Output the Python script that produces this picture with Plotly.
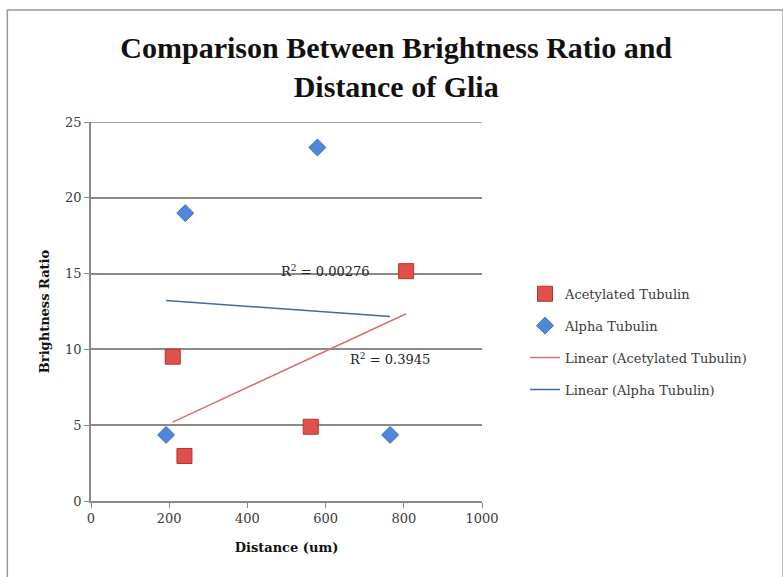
import numpy as np
import plotly.graph_objects as go

# Data
acet_x = [209, 239, 562, 806]
acet_y = [9.52, 2.97, 4.9, 15.16]
alpha_x = [192, 241, 579, 765]
alpha_y = [4.36, 18.99, 23.32, 4.36]

r2_acet_label = "R<sup>2</sup> = 0.3945"
r2_alpha_label = "R<sup>2</sup> = 0.00276"

x_ticks = [0, 200, 400, 600, 800, 1000]
y_ticks = [0, 5, 10, 15, 20, 25]

def fit_line(xs, ys):
    m, b = np.polyfit(xs, ys, 1)
    xx = np.array([min(xs), max(xs)])
    return xx, m * xx + b

ax_x, ax_y = fit_line(acet_x, acet_y)
al_x, al_y = fit_line(alpha_x, alpha_y)

SERIF = "DejaVu Serif"
TITLE_FONT = "Liberation Serif"
TXT = "#3a3a3a"
GRID = "#8a8a8a"

fig = go.Figure()
fig.add_trace(go.Scatter(
    x=acet_x, y=acet_y, mode="markers", name="Acetylated Tubulin",
    marker=dict(symbol="square", size=15, color="#e0504b",
                line=dict(color="#b8322e", width=1)),
    legendgroup="a"))
fig.add_trace(go.Scatter(
    x=alpha_x, y=alpha_y, mode="markers", name="Alpha Tubulin",
    marker=dict(symbol="diamond", size=13, color="#4f88d8",
                line=dict(color="#3a6cb5", width=1)),
    legendgroup="b"))
fig.add_trace(go.Scatter(
    x=ax_x, y=ax_y, mode="lines", name="Linear (Acetylated Tubulin)",
    line=dict(color="#d8716c", width=1.5), legendgroup="c"))
fig.add_trace(go.Scatter(
    x=al_x, y=al_y, mode="lines", name="Linear (Alpha Tubulin)",
    line=dict(color="#44679f", width=1.5), legendgroup="d"))

fig.add_annotation(x=599, y=15.17, text=r2_alpha_label, showarrow=False,
                   font=dict(family=SERIF, size=13, color="#222"))
fig.add_annotation(x=765, y=9.37, text=r2_acet_label, showarrow=False,
                   font=dict(family=SERIF, size=13, color="#222"))

# top gridline (at the last y tick, on the range edge)
fig.add_shape(type="line", xref="paper", yref="y", x0=0, x1=1,
              y0=y_ticks[-1], y1=y_ticks[-1],
              line=dict(color=GRID, width=1.5), layer="below")

# outer chart border
fig.add_shape(type="rect", xref="paper", yref="paper",
              x0=-0.214, x1=1.77, y0=-0.3, y1=1.2955,
              line=dict(color="#9a9a9a", width=1.5), fillcolor="rgba(0,0,0,0)",
              layer="below")

fig.update_layout(
    width=783, height=577,
    margin=dict(l=91, r=301, t=122, b=76),
    paper_bgcolor="white", plot_bgcolor="white",
    title=dict(text="<b>Comparison Between Brightness Ratio and<br>Distance of Glia</b>",
               x=0.506, xanchor="center", y=0.9, yanchor="middle",
               font=dict(family=TITLE_FONT, size=30, color="#111")),
    xaxis=dict(range=[0, 1000], tickvals=x_ticks, showgrid=False,
               showline=True, linecolor=GRID, linewidth=1.5,
               ticks="outside", ticklen=5, tickcolor=GRID,
               tickfont=dict(family=SERIF, size=13, color=TXT),
               title=dict(text="<b>Distance (um)</b>", standoff=18,
                          font=dict(family=SERIF, size=13, color="#111")),
               zeroline=False),
    yaxis=dict(range=[0, 25], tickvals=y_ticks, showgrid=True,
               gridcolor=GRID, gridwidth=1.5,
               showline=True, linecolor=GRID, linewidth=1.5,
               ticks="outside", ticklen=5, tickcolor=GRID,
               tickfont=dict(family=SERIF, size=13, color=TXT),
               title=dict(text="<b>Brightness Ratio</b>", standoff=13,
                          font=dict(family=SERIF, size=13, color="#111")),
               zeroline=False),
    legend=dict(x=1.11, y=0.42, xanchor="left", yanchor="middle",
                traceorder="grouped", tracegroupgap=12,
                font=dict(family=SERIF, size=13, color=TXT),
                bgcolor="rgba(0,0,0,0)"),
    showlegend=True,
)

fig.write_html("out.html")
